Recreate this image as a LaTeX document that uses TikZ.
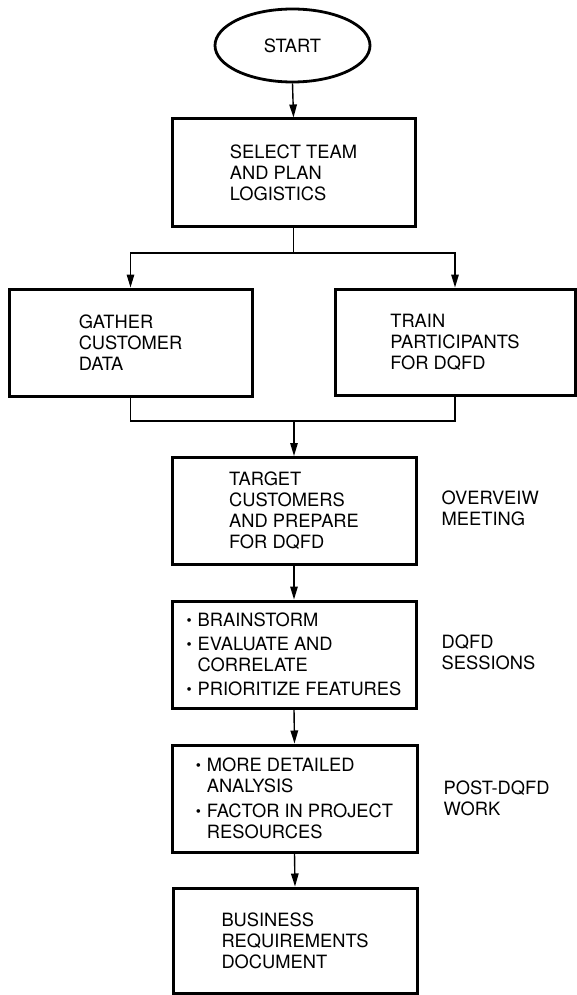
\documentclass[tikz,border=0pt]{standalone}
\usepackage{fontspec}
\usepackage{graphicx}
\setmainfont{TeX Gyre Heros}
\usetikzlibrary{arrows.meta,shapes.geometric}

% small round bullet with a hanging indent for the list boxes
\newcommand{\dotitem}{\makebox[11pt][l]{\raisebox{1.5pt}{\scalebox{0.8}{\textbullet}}}}
\newcommand{\dotgap}{\hspace*{11pt}}

\begin{document}
\begin{tikzpicture}[x=1pt,y=-1pt,
  txt/.style={font=\fontsize{18.3}{21}\selectfont},
  stepbox/.style={txt,draw,line width=3pt,minimum width=243pt,minimum height=107pt,
    align=left,inner sep=0pt},
  terminal/.style={txt,draw,ellipse,line width=2.8pt,minimum width=155pt,minimum height=73pt,inner sep=0pt},
  link/.style={line width=1.4pt},
  conn/.style={link,-{Triangle[length=13pt,width=7.5pt]}},
  phase/.style={txt,align=left,anchor=west,inner sep=0pt}]

\useasboundingbox (0,0) rectangle (577,995);

\node[terminal] (start) at (292.5,45.5) {START};

\node[stepbox] (b1) at (293.5,172.5) {SELECT TEAM\\AND PLAN\\LOGISTICS};

\node[stepbox] (b2) at (130.5,342.5) {GATHER\\CUSTOMER\\DATA};
\node[stepbox,minimum width=240pt,minimum height=106pt] (b3) at (455,342) {TRAIN\\PARTICIPANTS\\FOR DQFD};

\node[stepbox,minimum width=244pt] (b4) at (294,511) {TARGET\\CUSTOMERS\\AND PREPARE\\FOR DQFD};

\node[stepbox,minimum width=244pt] (b5) at (294,654.5)
  {\dotitem BRAINSTORM\\[3pt]\dotitem EVALUATE AND\\\dotgap CORRELATE\\[3pt]\dotitem PRIORITIZE FEATURES};

\node[stepbox,minimum width=245pt] (b6) at (294.5,798.5)
  {\dotitem MORE DETAILED\\\dotgap ANALYSIS\\[4pt]\dotitem FACTOR IN PROJECT\\\dotgap RESOURCES};

\node[stepbox,minimum width=244pt,minimum height=105pt] (b7) at (295,940.5)
  {BUSINESS\\REQUIREMENTS\\DOCUMENT};

% phase labels beside the main column
\node[phase] (l4) at ([xshift=24pt,yshift=3pt]b4.east) {OVERVEIW\\MEETING};
\node[phase] (l5) at ([xshift=24pt,yshift=2pt]b5.east) {DQFD\\SESSIONS};
\node[phase] (l6) at ([xshift=25pt,yshift=0pt]b6.east) {POST-DQFD\\WORK};

% connectors
\coordinate (split) at (b1.south |- 0,253);
\coordinate (merge) at (b4.north |- 0,421);

\draw[conn] (start.south) -- (b1.north);
\draw[link] (b1.south) -- (split);
\draw[conn] (split) -| (b2.north);
\draw[conn] (split) -| (b3.north);
\draw[link] (b2.south) |- (merge) -| (b3.south);
\draw[conn] (merge) -- (b4.north);
\draw[conn] (b4.south) -- (b5.north);
\draw[conn] (b5.south) -- (b6.north);
\draw[conn] (b6.south) -- (b7.north);

\end{tikzpicture}
\end{document}
